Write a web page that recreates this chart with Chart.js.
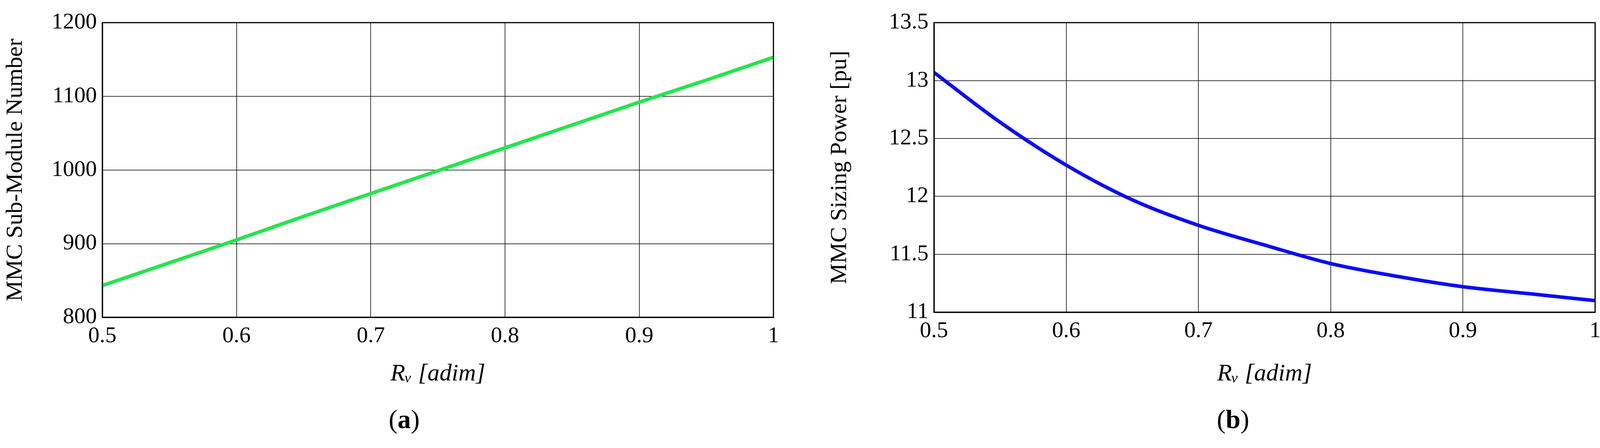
<!DOCTYPE html>
<html><head>
<script src="https://cdn.jsdelivr.net/npm/chart.js@4"></script>
<style>
body{margin:0;background:#fff;width:4112px;height:1148px;position:relative;overflow:hidden;font-family:"Liberation Serif",serif}
.box{position:absolute;top:0;height:1000px}
.cap{position:absolute;top:1035px;font-size:68px}
</style></head><body>
<div class="box" style="left:0;width:2010px"><canvas id="c1"></canvas></div>
<div class="box" style="left:2110px;width:2002px"><canvas id="c2"></canvas></div>
<div class="cap" style="left:995px">(<b>a</b>)</div>
<div class="cap" style="left:3115px">(<b>b</b>)</div>
<script>
const rv = [0.5, 0.55, 0.6, 0.65, 0.7, 0.75, 0.8, 0.85, 0.9, 0.95, 1.0];
const subModules = [843, 874, 905, 937, 968, 999, 1030, 1061, 1092, 1122, 1153];
const sizingPower = [13.07, 12.64, 12.27, 11.97, 11.75, 11.58, 11.42, 11.31, 11.22, 11.16, 11.10];

const font = { family: "Liberation Serif", size: 58 };
const fmt = v => String(Math.round(v * 100) / 100);

function makeChart(id, values, color, yMin, yMax, yStep, yTitle, yW, xH, padR) {
  new Chart(document.getElementById(id), {
    type: "line",
    data: {
      datasets: [{
        data: rv.map((x, i) => ({ x: x, y: values[i] })),
        borderColor: color, borderWidth: 9, pointRadius: 0, cubicInterpolationMode: "monotone",
      }],
    },
    options: {
      responsive: true, maintainAspectRatio: false, animation: false,
      layout: { padding: { top: 58, right: padR } },
      plugins: { legend: { display: false }, tooltip: { enabled: false } },
      scales: {
        x: {
          type: "linear", min: 0.5, max: 1,
          ticks: { stepSize: 0.1, color: "#000", font: font, padding: 14, callback: fmt },
          grid: { color: "#000", lineWidth: 1.5, drawTicks: false },
          border: { color: "#000", width: 3 },
          title: { display: true, text: "Rᵥ [adim]", color: "#000", font: { family: "Liberation Serif", size: 62, style: "italic" } },
          afterFit: s => { s.height = xH; },
        },
        y: {
          min: yMin, max: yMax,
          ticks: { stepSize: yStep, color: "#000", font: font, padding: 14, callback: fmt },
          grid: { color: "#000", lineWidth: 1.5, drawTicks: false },
          border: { color: "#000", width: 3 },
          title: { display: true, text: yTitle, color: "#000", font: { family: "Liberation Serif", size: 60 } },
          afterFit: s => { s.width = yW; },
        },
      },
    },
    plugins: [{
      id: "frame",
      afterDraw(c) {
        const a = c.chartArea, g = c.ctx;
        g.save(); g.strokeStyle = "#000"; g.lineWidth = 3;
        g.strokeRect(a.left, a.top, a.right - a.left, a.bottom - a.top);
        g.restore();
      },
    }],
  });
}

makeChart("c1", subModules, "#22e64a", 800, 1200, 100, "MMC Sub-Module Number", 262, 187, 30);
makeChart("c2", sizingPower, "#0a0af5", 11, 13.5, 0.5, "MMC Sizing Power [pu]", 281, 200, 27);
</script>
</body></html>
